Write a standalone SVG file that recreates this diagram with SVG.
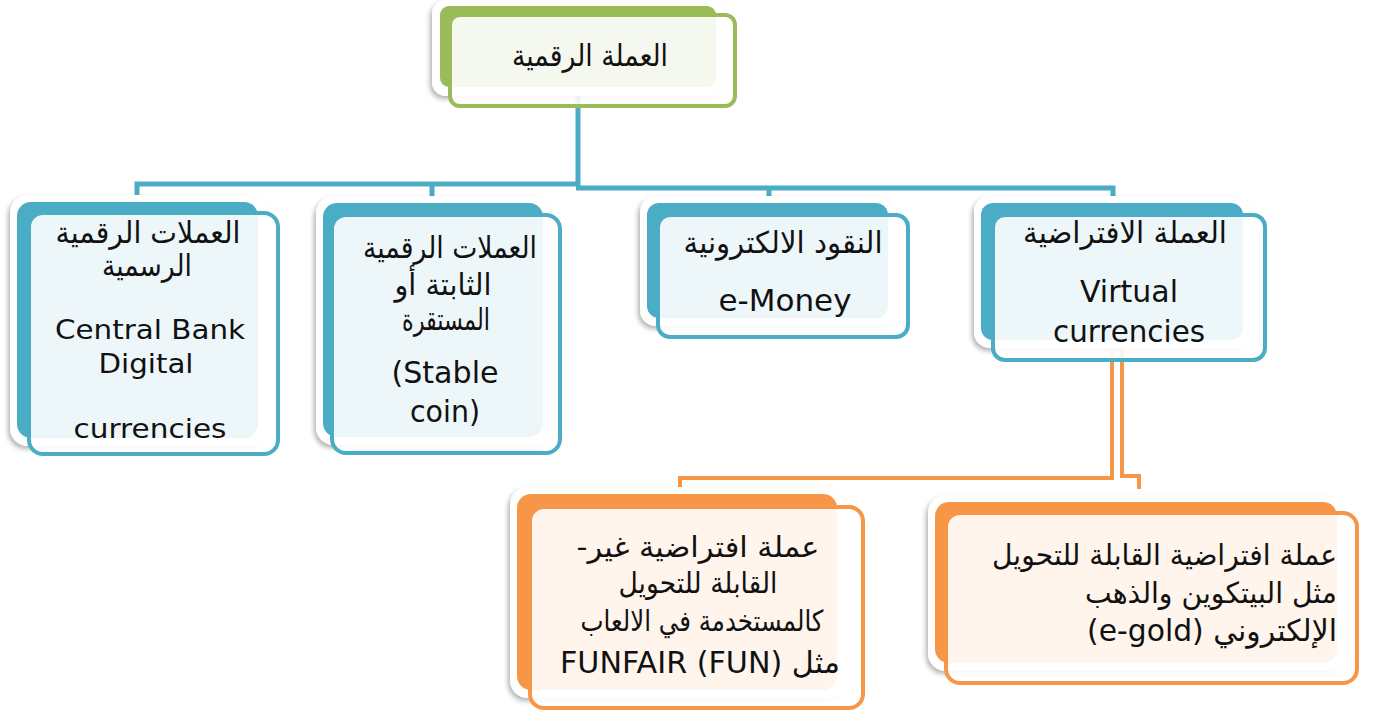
<svg xmlns="http://www.w3.org/2000/svg" width="1378" height="710" viewBox="0 0 1378 710">
<defs>
<filter id="sh" x="-10%" y="-10%" width="120%" height="125%">
<feDropShadow dx="-2" dy="3" stdDeviation="2.5" flood-color="#000" flood-opacity="0.3"/>
</filter>
<style>
.halo{fill:#fff;filter:url(#sh)}
.bk-g{fill:#9bbb59}.bk-b{fill:#4bacc6}.bk-o{fill:#f79646}
.fr{fill:#fff;fill-opacity:0.9;stroke-width:4}
.fr-g{stroke:#9bbb59}.fr-b{stroke:#4bacc6}.fr-o{stroke:#f79646}
.cb{fill:none;stroke:#4bacc6;stroke-width:5}
.co{fill:none;stroke:#f79646;stroke-width:4}
text{font-family:"DejaVu Sans","Noto Sans",sans-serif;fill:#111}
.c{text-anchor:middle}
.r{text-anchor:end}
.ar{font-size:30px}.en{font-size:27px}.en2{font-size:30px}.ar2{font-size:29px}
</style>
</defs>
<g id="connectors">
<path class="cb" d="M578,96 V186"/>
<path class="cb" d="M580,184 H137 V197"/>
<path class="cb" d="M432,184 V197"/>
<path class="cb" d="M576,188 H1113 V197"/>
<path class="cb" d="M769,188 V199"/>
<path class="co" d="M1112,350 V478 H680 V489"/>
<path class="co" d="M1122,350 V476 H1139 V489"/>
</g>
<g id="root">
<rect class="halo" x="432" y="0" width="292" height="96" rx="14"/>
<rect class="bk-g" x="440" y="6" width="276" height="81" rx="9"/>
<rect class="fr fr-g" x="450" y="15" width="285" height="91" rx="10"/>
<text class="c ar" x="590" y="66" textLength="156" lengthAdjust="spacingAndGlyphs">العملة الرقمية</text>
</g>
<g id="n1">
<rect class="halo" x="10" y="195" width="256" height="251" rx="18"/>
<rect class="bk-b" x="17" y="202" width="241" height="236" rx="14"/>
<rect class="fr fr-b" x="29" y="213" width="249" height="241" rx="14"/>
<text class="c ar" x="148" y="243" textLength="185" lengthAdjust="spacingAndGlyphs">العملات الرقمية</text>
<text class="c ar" x="147" y="276" textLength="90" lengthAdjust="spacingAndGlyphs">الرسمية</text>
<text class="c en" x="150" y="339" textLength="190" lengthAdjust="spacingAndGlyphs">Central Bank</text>
<text class="c en" x="146" y="373" textLength="95" lengthAdjust="spacingAndGlyphs">Digital</text>
<text class="c en" x="150" y="438" textLength="153" lengthAdjust="spacingAndGlyphs">currencies</text>
</g>
<g id="n2">
<rect class="halo" x="316" y="196" width="235" height="249" rx="18"/>
<rect class="bk-b" x="323" y="203" width="220" height="234" rx="14"/>
<rect class="fr fr-b" x="332" y="215" width="228" height="238" rx="14"/>
<text class="c ar" x="450" y="258" textLength="174" lengthAdjust="spacingAndGlyphs">العملات الرقمية</text>
<text class="c ar" x="443" y="295" textLength="97" lengthAdjust="spacingAndGlyphs">الثابتة أو</text>
<text class="c ar" x="446" y="330" textLength="88" lengthAdjust="spacingAndGlyphs">المستقرة</text>
<text class="c en2" x="445" y="383" textLength="107" lengthAdjust="spacingAndGlyphs">(Stable</text>
<text class="c en2" x="445" y="422" textLength="70" lengthAdjust="spacingAndGlyphs">coin)</text>
</g>
<g id="n3">
<rect class="halo" x="640" y="196" width="256" height="130" rx="16"/>
<rect class="bk-b" x="647" y="203" width="241" height="115" rx="12"/>
<rect class="fr fr-b" x="658" y="215" width="250" height="122" rx="12"/>
<text class="c ar" x="783" y="253" textLength="199" lengthAdjust="spacingAndGlyphs">النقود الالكترونية</text>
<text class="c en2" x="785" y="311" textLength="133" lengthAdjust="spacingAndGlyphs">e-Money</text>
</g>
<g id="n4">
<rect class="halo" x="974" y="196" width="276" height="152" rx="16"/>
<rect class="bk-b" x="981" y="203" width="262" height="137" rx="12"/>
<rect class="fr fr-b" x="993" y="215" width="272" height="145" rx="12"/>
<text class="c ar" x="1125" y="243" textLength="204" lengthAdjust="spacingAndGlyphs">العملة الافتراضية</text>
<text class="c en2" x="1129" y="302" textLength="98" lengthAdjust="spacingAndGlyphs">Virtual</text>
<text class="c en2" x="1129" y="342" textLength="152" lengthAdjust="spacingAndGlyphs">currencies</text>
</g>
<g id="n5">
<rect class="halo" x="510" y="487" width="334" height="211" rx="18"/>
<rect class="bk-o" x="517" y="494" width="320" height="196" rx="14"/>
<rect class="fr fr-o" x="530" y="507" width="333" height="201" rx="14"/>
<text class="c ar2" x="698" y="557" textLength="243" lengthAdjust="spacingAndGlyphs">-عملة افتراضية غير</text>
<text class="c ar2" x="698" y="593" textLength="159" lengthAdjust="spacingAndGlyphs">القابلة للتحويل</text>
<text class="c ar2" x="702" y="631" textLength="243" lengthAdjust="spacingAndGlyphs">كالمستخدمة في الالعاب</text>
<text class="c en2" x="700" y="673" textLength="280" lengthAdjust="spacingAndGlyphs">FUNFAIR (FUN) مثل</text>
</g>
<g id="n6">
<rect class="halo" x="928" y="495" width="416" height="176" rx="18"/>
<rect class="bk-o" x="935" y="502" width="402" height="161" rx="14"/>
<rect class="fr fr-o" x="946" y="513" width="411" height="170" rx="14"/>
<text class="r ar2" x="1337" y="565" textLength="345" lengthAdjust="spacingAndGlyphs">عملة افتراضية القابلة للتحويل</text>
<text class="r ar2" x="1337" y="603" textLength="252" lengthAdjust="spacingAndGlyphs">مثل البيتكوين والذهب</text>
<text class="r en2" x="1337" y="641" textLength="250" lengthAdjust="spacingAndGlyphs">(e-gold) الإلكتروني</text>
</g>
</svg>
